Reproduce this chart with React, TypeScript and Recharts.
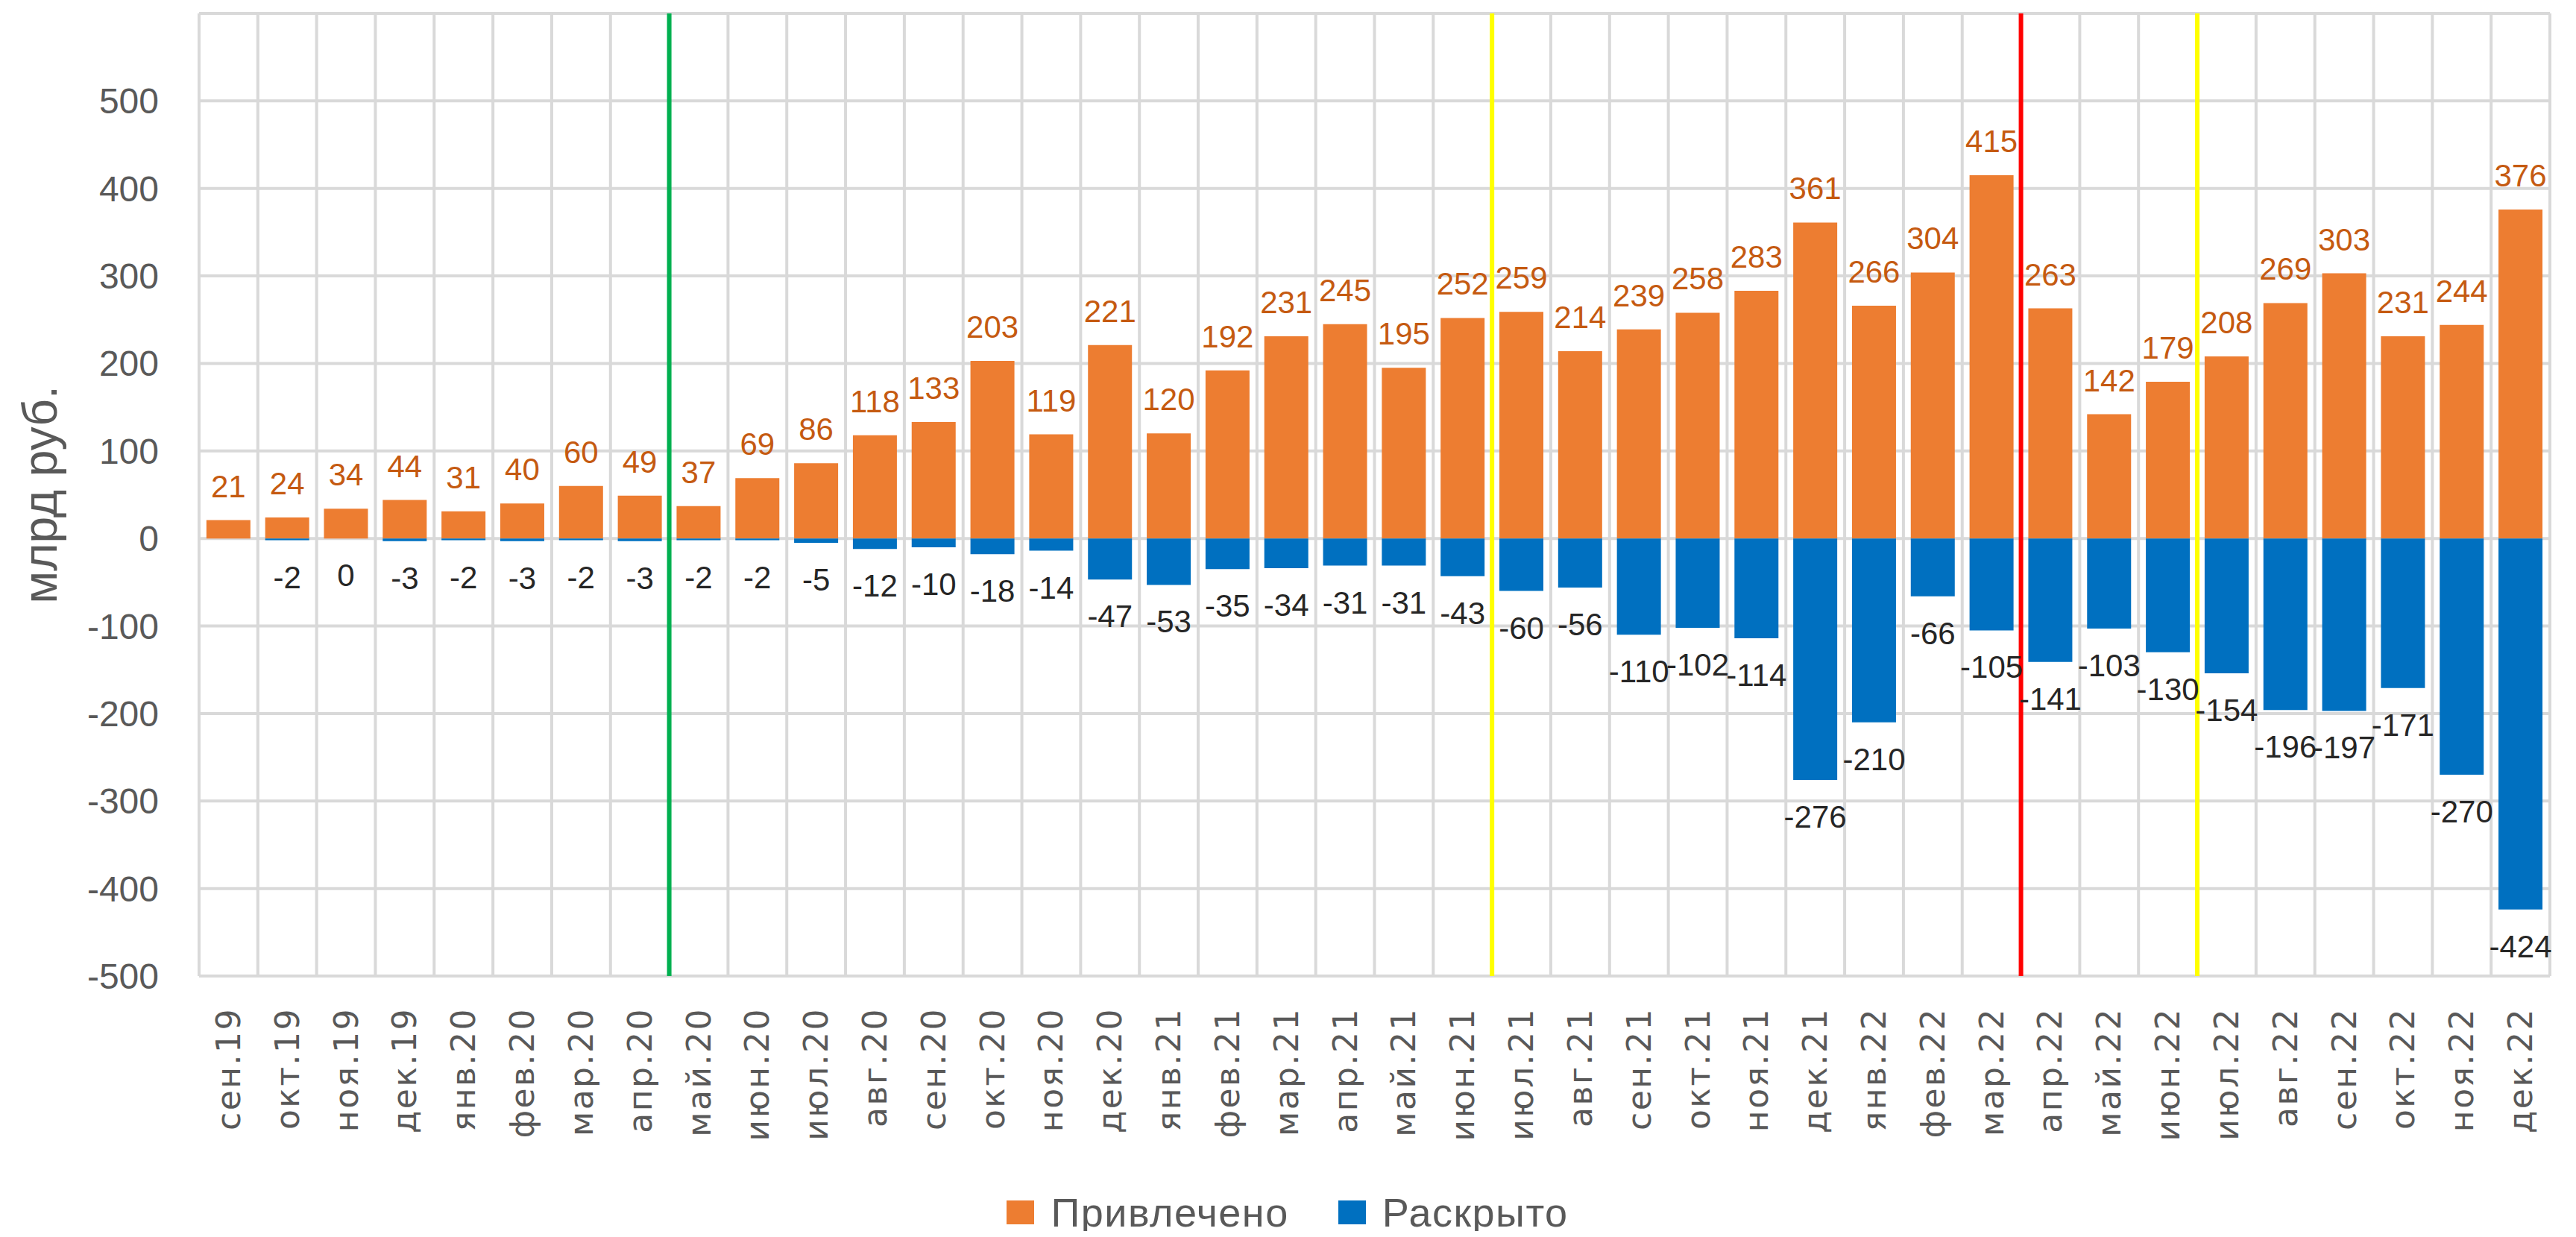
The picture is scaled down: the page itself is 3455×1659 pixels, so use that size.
import React from 'react';
import {
  BarChart, Bar, XAxis, YAxis, CartesianGrid, ReferenceLine, Legend,
} from 'recharts';

const months = [
  'сен.19', 'окт.19', 'ноя.19', 'дек.19', 'янв.20', 'фев.20', 'мар.20', 'апр.20',
  'май.20', 'июн.20', 'июл.20', 'авг.20', 'сен.20', 'окт.20', 'ноя.20', 'дек.20',
  'янв.21', 'фев.21', 'мар.21', 'апр.21', 'май.21', 'июн.21', 'июл.21', 'авг.21',
  'сен.21', 'окт.21', 'ноя.21', 'дек.21', 'янв.22', 'фев.22', 'мар.22', 'апр.22',
  'май.22', 'июн.22', 'июл.22', 'авг.22', 'сен.22', 'окт.22', 'ноя.22', 'дек.22',
];

// Привлечено, млрд руб.
const raised = [
  21, 24, 34, 44, 31, 40, 60, 49,
  37, 69, 86, 118, 133, 203, 119, 221,
  120, 192, 231, 245, 195, 252, 259, 214,
  239, 258, 283, 361, 266, 304, 415, 263,
  142, 179, 208, 269, 303, 231, 244, 376,
];

// Раскрыто, млрд руб. (no value for the first month)
const disclosed = [
  null, -2, 0, -3, -2, -3, -2, -3,
  -2, -2, -5, -12, -10, -18, -14, -47,
  -53, -35, -34, -31, -31, -43, -60, -56,
  -110, -102, -114, -276, -210, -66, -105, -141,
  -103, -130, -154, -196, -197, -171, -270, -424,
];

const yTicks = [-500, -400, -300, -200, -100, 0, 100, 200, 300, 400, 500];

// vertical marker lines, drawn at the start of these months
const markers = [
  { before: 'май.20', color: '#00b050' },
  { before: 'июл.21', color: '#ffff00' },
  { before: 'апр.22', color: '#ff0000' },
  { before: 'июл.22', color: '#ffff00' },
];

const data = months.map((m, i) => ({ month: m, raised: raised[i], disclosed: disclosed[i] }));

const FONT = "'Liberation Sans', Arial, sans-serif";
const GREY = '#595959';
const LABEL_SIZE = 42;

const MonthTick = (props: any) => {
  const { x, y, payload } = props;
  return (
    <g transform={`translate(${x},${y + 42}) rotate(-90)`}>
      <text textAnchor="end" dominantBaseline="central" fill={GREY} fontSize={44}
        fontFamily="'DejaVu Sans', sans-serif" letterSpacing={2.5}>
        {payload.value}
      </text>
    </g>
  );
};

const disclosedText = (cx: number, bottom: number, value: number) => (
  <text x={cx} y={bottom + 64} textAnchor="middle" fill="#262626" fontSize={LABEL_SIZE} fontFamily={FONT}>
    {value}
  </text>
);

const raisedLabel = (p: any) => {
  const { x, y, width, height, value, index } = p;
  if (value == null) return null;
  const top = Math.min(y, y + height);
  const zero = Math.max(y, y + height);
  return (
    <g>
      <text x={x + width / 2} y={top - 31} textAnchor="middle" fill="#c55a11" fontSize={LABEL_SIZE} fontFamily={FONT}>
        {value}
      </text>
      {/* zero-height blue bars get no label of their own */}
      {disclosed[index] === 0 && disclosedText(x + width / 2, zero, 0)}
    </g>
  );
};

const disclosedLabel = (p: any) => {
  const { x, y, width, height, value } = p;
  if (value == null || value === 0) return null;
  return disclosedText(x + width / 2, Math.max(y, y + height), value);
};

const YLabel = (p: any) => {
  const { x, y, height } = p.viewBox;
  return (
    <text transform={`translate(${x + 46},${y + height / 2}) rotate(-90)`} textAnchor="middle"
      dominantBaseline="central" fill={GREY} fontSize={64} fontFamily={FONT}>
      млрд руб.
    </text>
  );
};

const LegendBox = () => (
  <div style={{ display: 'flex', justifyContent: 'center', alignItems: 'center', gap: 66, height: 50, fontFamily: FONT, fontSize: 54, letterSpacing: 1.5, color: GREY, paddingLeft: 26 }}>
    <span style={{ display: 'flex', alignItems: 'center' }}>
      <span style={{ width: 37, height: 32, background: '#ed7d31', marginRight: 22 }} />Привлечено
    </span>
    <span style={{ display: 'flex', alignItems: 'center' }}>
      <span style={{ width: 37, height: 32, background: '#0070c0', marginRight: 22 }} />Раскрыто
    </span>
  </div>
);

const categoryEdges = ({ offset }: any) =>
  months.map((_, i) => offset.left + (i * offset.width) / months.length).concat(offset.left + offset.width);

export default function App() {
  return (
    <div style={{ width: 3440, height: 1643 }}>
      <BarChart width={3440} height={1643} data={data} stackOffset="sign" barCategoryGap="12.5%"
        margin={{ top: 10, right: 28, bottom: 0, left: 0 }}>
        <CartesianGrid stroke="#d9d9d9" strokeWidth={4} verticalCoordinatesGenerator={categoryEdges} />
        <XAxis dataKey="month" interval={0} tickLine={false} axisLine={false}
          tickSize={0} tickMargin={0} height={292} tick={<MonthTick />} />
        <YAxis domain={[-500, 600]} ticks={yTicks} width={259} tickLine={false} axisLine={false}
          tickSize={0} tickMargin={54} tick={{ fill: GREY, fontSize: 48, fontFamily: FONT }}
          label={{ position: 'insideLeft', content: (p: any) => <YLabel {...p} /> }} allowDataOverflow />
        <Bar dataKey="raised" name="Привлечено" stackId="a" fill="#ed7d31" isAnimationActive={false} label={raisedLabel} />
        <Bar dataKey="disclosed" name="Раскрыто" stackId="a" fill="#0070c0" isAnimationActive={false} label={disclosedLabel} />
        {markers.map((m) => (
          <ReferenceLine key={m.before} x={m.before} position="start" stroke={m.color} strokeWidth={6} />
        ))}
        <Legend verticalAlign="bottom" height={50} content={() => <LegendBox />} />
      </BarChart>
    </div>
  );
}
